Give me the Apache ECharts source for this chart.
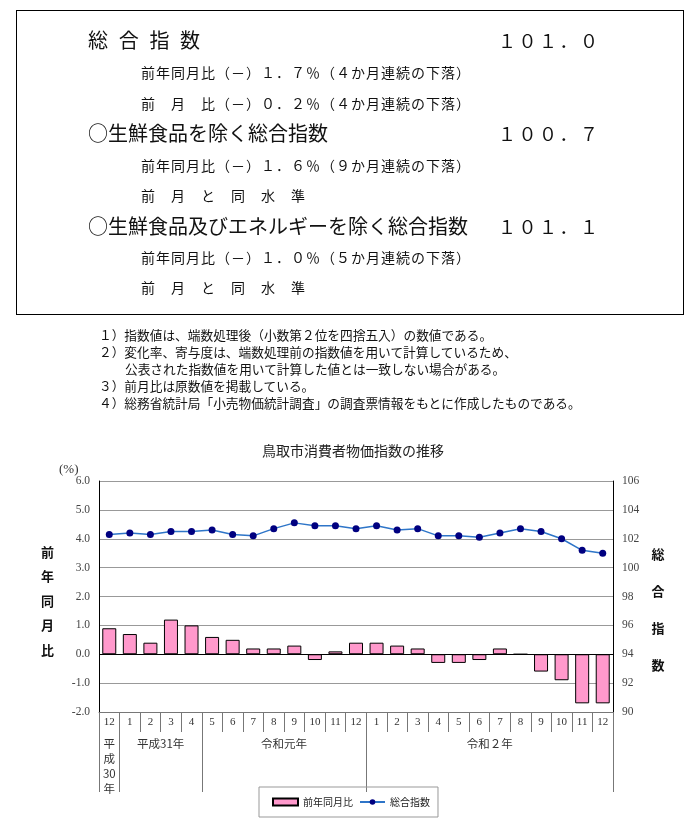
<!DOCTYPE html>
<html>
<head>
<meta charset="utf-8">
<script src="https://cdn.jsdelivr.net/npm/echarts@6/dist/echarts.min.js"></script>
<style>
html,body{margin:0;padding:0;background:#fff;}
#wrap{position:relative;width:697px;height:836px;overflow:hidden;background:#fff;}
#chart{position:absolute;left:0;top:0;width:697px;height:836px;}
.t{position:absolute;white-space:nowrap;font-family:"Noto Sans CJK JP",sans-serif;color:#111;pointer-events:none;}
.h{font-size:20px;line-height:20px;}
.n{font-size:18px;line-height:18px;letter-spacing:2.5px;}
.s{font-size:14px;line-height:14px;letter-spacing:1px;}
.note{font-size:12.7px;line-height:13px;}
#box{position:absolute;left:16px;top:10px;width:666px;height:303px;border:1px solid #000;pointer-events:none;}
</style>
</head>
<body>
<div id="wrap">
<div id="chart"></div>
<div id="box"></div>
<div class="t h" style="left:88px;top:30px;letter-spacing:10.7px;">総合指数</div>
<div class="t n" style="left:498px;top:31px;">１０１．０</div>
<div class="t s" style="left:141px;top:65px;">前年同月比（－）１．７％（４か月連続の下落）</div>
<div class="t s" style="left:141px;top:96px;">前　月　比（－）０．２％（４か月連続の下落）</div>
<div class="t h" style="left:88px;top:123px;">○生鮮食品を除く総合指数</div>
<div class="t n" style="left:498px;top:124px;">１００．７</div>
<div class="t s" style="left:141px;top:158px;">前年同月比（－）１．６％（９か月連続の下落）</div>
<div class="t s" style="left:141px;top:188px;">前　月　と　同　水　準</div>
<div class="t h" style="left:88px;top:216px;">○生鮮食品及びエネルギーを除く総合指数</div>
<div class="t n" style="left:498px;top:217px;">１０１．１</div>
<div class="t s" style="left:141px;top:250px;">前年同月比（－）１．０％（５か月連続の下落）</div>
<div class="t s" style="left:141px;top:280px;">前　月　と　同　水　準</div>
<div class="t note" style="left:99px;top:328px;">１）指数値は、端数処理後（小数第２位を四捨五入）の数値である。</div>
<div class="t note" style="left:99px;top:345px;">２）変化率、寄与度は、端数処理前の指数値を用いて計算しているため、</div>
<div class="t note" style="left:125px;top:362px;">公表された指数値を用いて計算した値とは一致しない場合がある。</div>
<div class="t note" style="left:99px;top:379px;">３）前月比は原数値を掲載している。</div>
<div class="t note" style="left:99px;top:396px;">４）総務省統計局「小売物価統計調査」の調査票情報をもとに作成したものである。</div>
</div>
<script>
// ---- data ----
const months = ['12','1','2','3','4','5','6','7','8','9','10','11','12','1','2','3','4','5','6','7','8','9','10','11','12'];
const yoyChange = [0.9,0.7,0.4,1.2,1.0,0.6,0.5,0.2,0.2,0.3,-0.2,0.1,0.4,0.4,0.3,0.2,-0.3,-0.3,-0.2,0.2,0.0,-0.6,-0.9,-1.7,-1.7];
const overallIndex = [102.3,102.4,102.3,102.5,102.5,102.6,102.3,102.2,102.7,103.1,102.9,102.9,102.7,102.9,102.6,102.7,102.2,102.2,102.1,102.4,102.7,102.5,102.0,101.2,101.0];
const yearLabels = ['平\n成\n30\n年','平成31年','令和元年','令和２年'];
const yearMonthCounts = [1,4,8,12];
const seriesNames = ['前年同月比','総合指数'];
const axisNames = ['前\n年\n同\n月\n比','総\n合\n指\n数'];
const chartTitle = '鳥取市消費者物価指数の推移';

// ---- derived ----
const boundaries = [0];
yearMonthCounts.forEach(c => boundaries.push(boundaries[boundaries.length-1] + c));
const centers = yearMonthCounts.map((c,i) => boundaries[i] + c/2);

const serif = '"Liberation Serif","DejaVu Serif",serif';
const sans = '"Noto Sans CJK JP",sans-serif';

const chart = echarts.init(document.getElementById('chart'), null, {renderer:'canvas'});
chart.setOption({
  animation:false,
  textStyle:{fontFamily:sans},
  title:{text:chartTitle, left:262, top:444, padding:0,
    textStyle:{fontSize:14, fontWeight:'normal', color:'#222', fontFamily:sans}},
  graphic:[
    {type:'text', left:59, top:463, style:{text:'(%)', fontSize:13, fill:'#333', fontFamily:serif}},
    {type:'text', x:47.5, y:601, style:{text:axisNames[0], align:'center', verticalAlign:'middle',
      lineHeight:24.5, fontSize:13, fontWeight:'bold', fill:'#111', fontFamily:sans}},
    {type:'text', x:658, y:610, style:{text:axisNames[1], align:'center', verticalAlign:'middle',
      lineHeight:37, fontSize:13, fontWeight:'bold', fill:'#111', fontFamily:sans}}
  ],
  grid:{left:99, right:84, top:481, bottom:124, outerBoundsMode:'none'},
  legend:{
    data:[{name:seriesNames[0], icon:'rect'},{name:seriesNames[1]}],
    left:259, top:787, padding:[10,8,10,13], itemGap:6, itemWidth:25, itemHeight:7,
    borderColor:'#999', borderWidth:1,
    textStyle:{fontSize:10, color:'#222', fontFamily:sans}
  },
  xAxis:[
    {type:'category', data:months, boundaryGap:true, position:'bottom',
      axisLine:{onZero:false, lineStyle:{color:'#777'}},
      axisTick:{show:true, interval:0, length:20, lineStyle:{color:'#777'}},
      axisLabel:{interval:0, margin:5, fontSize:11, fontFamily:serif, color:'#333'},
      splitLine:{show:false}},
    {type:'category', data:months, boundaryGap:true, position:'bottom',
      axisLine:{show:true, onZero:false, lineStyle:{color:'rgba(0,0,0,0)'}},
      splitLine:{show:false},
      axisTick:{show:true, interval:(i) => boundaries.indexOf(i) >= 0, length:80, lineStyle:{color:'#777'}},
      axisLabel:{show:false}},
    {type:'value', min:0, max:boundaries[boundaries.length-1], position:'bottom',
      axisLine:{show:false}, splitLine:{show:false},
      axisTick:{show:false},
      axisLabel:{show:true, customValues:centers, formatter:v => yearLabels[centers.indexOf(v)],
        margin:24, verticalAlign:'top', lineHeight:15, fontSize:11.5, color:'#333', fontFamily:sans}}
  ],
  yAxis:[
    {type:'value', min:-2, max:6, interval:1, position:'left',
      axisLine:{show:true, lineStyle:{color:'#000'}},
      axisTick:{show:false},
      axisLabel:{formatter:v => v.toFixed(1), margin:9, fontSize:11.5, fontFamily:serif, color:'#444'},
      splitLine:{show:true, lineStyle:{color:'#999'}}},
    {type:'value', min:90, max:106, interval:2, position:'right',
      axisLine:{show:true, lineStyle:{color:'#000'}},
      axisTick:{show:false},
      axisLabel:{margin:9, fontSize:11.5, fontFamily:serif, color:'#444'},
      splitLine:{show:false}}
  ],
  series:[
    {name:seriesNames[0], type:'bar', data:yoyChange, barWidth:14,
      itemStyle:{color:'#FF99CC', borderColor:'#000', borderWidth:1},
      markLine:{silent:true, symbol:'none', label:{show:false},
        lineStyle:{color:'#000', width:1, type:'solid'}, data:[{yAxis:0}]}},
    {name:seriesNames[1], type:'line', yAxisIndex:1, data:overallIndex,
      symbol:'circle', symbolSize:7,
      lineStyle:{color:'#2E75C8', width:1.5},
      itemStyle:{color:'#000080', borderWidth:0}}
  ]
});
</script>
</body>
</html>
